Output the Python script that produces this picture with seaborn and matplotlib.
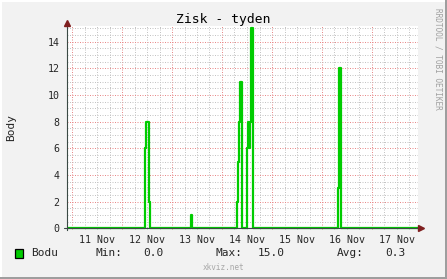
import matplotlib
matplotlib.use("Agg")
import matplotlib.pyplot as plt
import seaborn as sns
import pandas as pd
from matplotlib.ticker import MultipleLocator, FuncFormatter, NullFormatter
from matplotlib.patches import Rectangle

# ---- data (hours since 11 Nov 00:00, step values) ----
hours = [-2.5, 35.0, 35.5, 37.0, 37.5, 57.0, 57.5,
         79.0, 79.5, 80.0, 80.5, 81.5,
         84.0, 84.5, 85.0, 85.5, 86.0, 87.0,
         127.5, 128.0, 129.0, 166.5]
points = [0, 6, 8, 2, 0, 1, 0,
          2, 5, 8, 11, 0,
          6, 8, 6, 8, 15, 0,
          3, 12, 0, 0]
day_labels = ["11 Nov", "12 Nov", "13 Nov", "14 Nov", "15 Nov", "16 Nov", "17 Nov"]
title = "Zisk - tyden"
y_label = "Body"
series_name = "Bodu"
stat_names = ["Min:", "Max:", "Avg:"]
stat_values = ["0.0", "15.0", "0.3"]

W, H = 447, 279
BG = "#f2f2f2"
AXIS = "#3a4a44"
ARROW = "#7f1f1f"
GREEN = "#00cc00"

sns.set_style("white")
plt.rcParams["font.family"] = ["DejaVu Sans Mono"]

fig = plt.figure(figsize=(W / 100, H / 100), dpi=100, facecolor=BG)
ax = fig.add_axes([67 / W, (H - 230.3) / H, 351 / W, 204 / H])
ax.set_facecolor("white")

df = pd.DataFrame({"h": hours, "v": points})
sns.lineplot(data=df, x="h", y="v", ax=ax, color=GREEN, linewidth=1.6,
             drawstyle="steps-post", estimator=None, legend=False, zorder=3)

ax.set_xlim(-2.4, 166.08)
ax.set_ylim(-0.15, 15.15)
ax.set_xlabel("")
ax.set_ylabel("")

# x ticks: midnights (major grid), 6h minor grid, labels at noon
ax.xaxis.set_major_locator(MultipleLocator(24))
ax.xaxis.set_major_formatter(NullFormatter())
ax.xaxis.set_minor_locator(MultipleLocator(6))


def day_fmt(v, pos):
    if abs((v - 12) % 24) < 1e-6:
        i = int(round((v - 12) / 24))
        if 0 <= i < len(day_labels):
            return day_labels[i]
    return ""


ax.xaxis.set_minor_formatter(FuncFormatter(day_fmt))
ax.yaxis.set_major_locator(MultipleLocator(2))
ax.yaxis.set_minor_locator(MultipleLocator(0.5))

ax.grid(which="major", color="#e88a8a", linestyle=(0, (1, 1.5)), linewidth=0.72, zorder=1)
ax.grid(which="minor", color="#c4c4c4", linestyle=(0, (1, 1.5)), linewidth=0.72, zorder=1)
ax.set_axisbelow(True)

ax.tick_params(axis="x", which="major", direction="out", length=2.5, width=0.72,
               color="#c06060", labelsize=7)
ax.tick_params(axis="x", which="minor", length=0, pad=4.5, labelsize=7.2)
ax.tick_params(axis="y", which="major", direction="inout", length=4.5, width=0.72,
               color=AXIS, pad=3.2, labelsize=7.2)
ax.tick_params(axis="y", which="minor", length=0)

for s in ["top", "right"]:
    ax.spines[s].set_visible(False)
ax.spines["left"].set_color(AXIS)
ax.spines["left"].set_linewidth(0.8)
ax.spines["bottom"].set_position(("data", 0))
ax.spines["bottom"].set_color(AXIS)
ax.spines["bottom"].set_linewidth(0.8)
ax.spines["bottom"].set_zorder(5)
ax.spines["left"].set_zorder(5)

# axis extensions and arrows
yt = ax.get_yaxis_transform()
ax.plot([-0.009, 1.006], [0, 0], transform=yt, clip_on=False, color=AXIS, lw=0.8, zorder=5)
ax.plot([1.009], [0], transform=yt, marker=">", markersize=4, color=ARROW,
        clip_on=False, zorder=6, linestyle="none")
ax.plot([0, 0], [1, 1.012], transform=ax.transAxes, clip_on=False, color=AXIS, lw=0.8, zorder=5)
ax.plot([0], [1.015], transform=ax.transAxes, marker="^", markersize=4, color=ARROW,
        clip_on=False, zorder=6, linestyle="none")

# texts
fig.text(0.5, 1 - 20 / H, title, ha="center", va="center", fontsize=9.4, color="black")
fig.text(11 / W, 1 - 127.5 / H, y_label, rotation=90, ha="center", va="center", fontsize=8)
fig.text(438 / W, 1 - 59 / H, "RRDTOOL / TOBI OETIKER", rotation=270, ha="center",
         va="center", fontsize=5.6, color="#a0a0a0")
fig.text(223.5 / W, 1 - 268 / H, "xkviz.net", ha="center", va="center", fontsize=5.6,
         color="#a8a8a8")

# legend row
fig.add_artist(Rectangle((15 / W, 1 - 258 / H), 8 / W, 9 / H, transform=fig.transFigure,
                         facecolor=GREEN, edgecolor="black", linewidth=0.9))
ly = 1 - 253.5 / H
fig.text(31 / W, ly, series_name, ha="left", va="center", fontsize=8)
for name, val, xn, xv in zip(stat_names, stat_values, [95, 216, 337], [164, 285, 406]):
    fig.text(xn / W, ly, name, ha="left", va="center", fontsize=8)
    fig.text(xv / W, ly, val, ha="right", va="center", fontsize=8)

# frame shading
fig.add_artist(Rectangle((0, 1 - 2 / H), 1, 2 / H, transform=fig.transFigure,
                         facecolor="white", edgecolor="none"))
fig.add_artist(Rectangle((0, 0), 2 / W, 1, transform=fig.transFigure,
                         facecolor="white", edgecolor="none"))
fig.add_artist(Rectangle((1 - 2 / W, 0), 2 / W, 1, transform=fig.transFigure,
                         facecolor="#9e9e9e", edgecolor="none"))
fig.add_artist(Rectangle((0, 0), 1, 2 / H, transform=fig.transFigure,
                         facecolor="#9e9e9e", edgecolor="none"))

fig.savefig("out.png", dpi=100, facecolor=BG)
